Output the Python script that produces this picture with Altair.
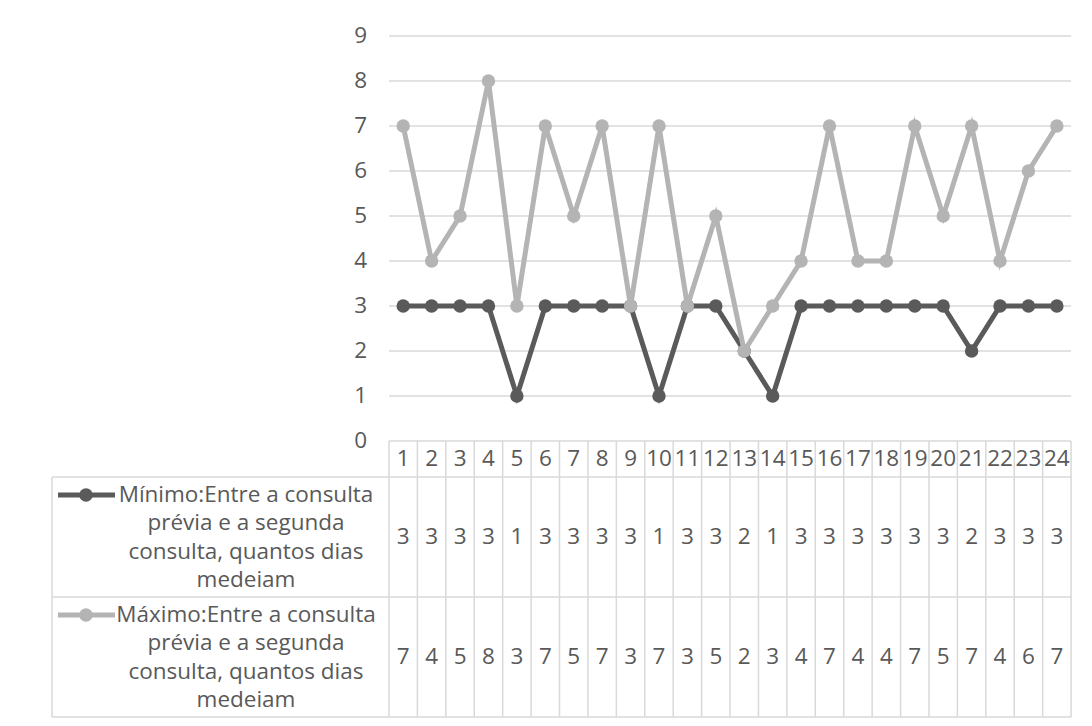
import altair as alt
import pandas as pd

# ---------------- data ----------------
categories = list(range(1, 25))
minimo = [3, 3, 3, 3, 1, 3, 3, 3, 3, 1, 3, 3, 2, 1, 3, 3, 3, 3, 3, 3, 2, 3, 3, 3]
maximo = [7, 4, 5, 8, 3, 7, 5, 7, 3, 7, 3, 5, 2, 3, 4, 7, 4, 4, 7, 5, 7, 4, 6, 7]
series_names = [
    "Mínimo:Entre a consulta prévia e a segunda consulta, quantos dias medeiam",
    "Máximo:Entre a consulta prévia e a segunda consulta, quantos dias medeiam",
]
series_lines = [
    ["Mínimo:Entre a consulta", "prévia e a segunda", "consulta, quantos dias", "medeiam"],
    ["Máximo:Entre a consulta", "prévia e a segunda", "consulta, quantos dias", "medeiam"],
]
y_ticks = list(range(0, 10))
colors = ["#5a5a5a", "#b4b4b4"]

# ---------------- layout (scale units) ----------------
FONT = "Open Sans"
FS = 22.5
TXT = "#595959"
GRID = "#d9d9d9"
N = len(categories)
COL_PX = 28.42          # px per category column
PX_UNIT = 45.0          # px per y unit
LEG = 337 / COL_PX      # legend column width, in column units
Y_TOP = 9
Y_BOT = -(717 - 441) / PX_UNIT
HDR_BOT = -(477 - 441) / PX_UNIT
ROW1_BOT = -(597 - 441) / PX_UNIT
row_bots = [ROW1_BOT, Y_BOT]
row_tops = [HDR_BOT, ROW1_BOT]
W = (N + LEG) * COL_PX
H = (Y_TOP - Y_BOT) * PX_UNIT

xscale = alt.Scale(domain=[-LEG, N], nice=False, zero=False)
yscale = alt.Scale(domain=[Y_BOT, Y_TOP], nice=False, zero=False)


def X(f):
    return alt.X(f, scale=xscale, axis=None)


def Y(f):
    return alt.Y(f, scale=yscale, axis=None)


# gridlines + y tick labels
grid_df = pd.DataFrame({"v": y_ticks, "x0": 0, "x1": N, "xl": -22 / COL_PX,
                        "t": [str(v) for v in y_ticks]})
grid = alt.Chart(grid_df).mark_rule(color=GRID, strokeWidth=1.5).encode(
    x=X("x0:Q"), x2="x1:Q", y=Y("v:Q"))
ylabels = alt.Chart(grid_df).mark_text(font=FONT, fontSize=FS, color=TXT, align="right",
                                       baseline="middle").encode(
    x=X("xl:Q"), y=Y("v:Q"), text="t:N")

# table borders
segs = []
for yy in [HDR_BOT, ROW1_BOT, Y_BOT]:
    segs.append({"x": -LEG, "x2": N, "y": yy, "y2": yy})
segs.append({"x": -LEG, "x2": -LEG, "y": HDR_BOT, "y2": Y_BOT})
for k in range(N + 1):
    segs.append({"x": k, "x2": k, "y": 0, "y2": Y_BOT})
table = alt.Chart(pd.DataFrame(segs)).mark_rule(color=GRID, strokeWidth=1.5).encode(
    x=X("x:Q"), x2="x2:Q", y=Y("y:Q"), y2="y2:Q")

# header numbers
hdr_df = pd.DataFrame({"x": [c - 0.5 for c in categories], "t": [str(c) for c in categories],
                       "y": HDR_BOT / 2})
hdr = alt.Chart(hdr_df).mark_text(font=FONT, fontSize=FS, color=TXT, baseline="middle").encode(
    x=X("x:Q"), y=Y("y:Q"), text="t:N")

layers = [grid, ylabels, table, hdr]

# row values + legend cells
for si, vals in enumerate([minimo, maximo]):
    mid = (row_tops[si] + row_bots[si]) / 2
    vdf = pd.DataFrame({"x": [c - 0.5 for c in categories], "t": [str(v) for v in vals], "y": mid})
    layers.append(alt.Chart(vdf).mark_text(font=FONT, fontSize=FS, color=TXT, baseline="middle").encode(
        x=X("x:Q"), y=Y("y:Q"), text="t:N"))
    first = row_tops[si] - 18 / PX_UNIT
    step = 28.3 / PX_UNIT
    ldf = pd.DataFrame({"t": series_lines[si],
                        "y": [first - i * step for i in range(len(series_lines[si]))],
                        "x": (246 - 389) / COL_PX})
    layers.append(alt.Chart(ldf).mark_text(font=FONT, fontSize=FS, color=TXT, baseline="middle",
                                           align="center").encode(
        x=X("x:Q"), y=Y("y:Q"), text="t:N"))
    sym = pd.DataFrame({"x": [(58 - 389) / COL_PX], "x2": [(115 - 389) / COL_PX],
                        "xm": [(86 - 389) / COL_PX], "y": [first]})
    layers.append(alt.Chart(sym).mark_rule(color=colors[si], strokeWidth=5).encode(
        x=X("x:Q"), x2="x2:Q", y=Y("y:Q")))
    layers.append(alt.Chart(sym).mark_point(color=colors[si], filled=True, opacity=1, size=180).encode(
        x=X("xm:Q"), y=Y("y:Q")))

# lines + markers (Máximo drawn on top)
for si, vals in enumerate([minimo, maximo]):
    df = pd.DataFrame({"x": [c - 0.5 for c in categories], "value": vals, "series": series_names[si]})
    base = alt.Chart(df).encode(x=X("x:Q"), y=Y("value:Q"))
    layers.append(base.mark_line(color=colors[si], strokeWidth=5))
    layers.append(base.mark_point(color=colors[si], filled=True, opacity=1, size=180))

chart = alt.layer(*layers).properties(
    width=W, height=H,
    autosize=alt.AutoSizeParams(type="none"),
    padding={"left": 44, "top": 28, "right": 12, "bottom": 2},
    background="white",
).configure_view(stroke=None)

chart.save("out.html", embed_options={"renderer": "svg", "actions": False})
